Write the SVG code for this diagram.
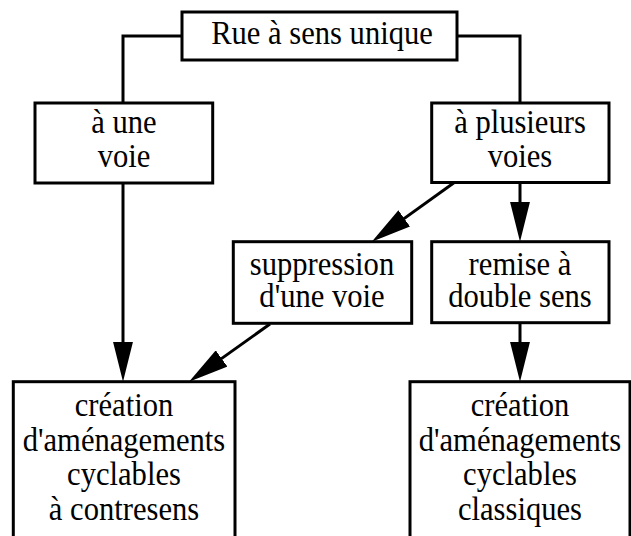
<svg xmlns="http://www.w3.org/2000/svg" width="631" height="536" viewBox="0 0 631 536">
<defs>
<style>
.box{fill:#fff;stroke:#000;stroke-width:3}
.ln{fill:none;stroke:#000;stroke-width:3}
text{font-family:"Liberation Serif","Times New Roman",serif;font-size:34px;fill:#000;text-anchor:middle}
</style>
<marker id="ah" viewBox="0 0 40 20" refX="20" refY="10" markerWidth="40" markerHeight="20" markerUnits="userSpaceOnUse" orient="auto">
<path d="M0,0 L40,10 L0,20 Z" fill="#000"/>
</marker>
</defs>
<rect width="631" height="536" fill="#fff"/>
<g id="connectors">
<polyline class="ln" points="182,36 123,36 123,103"/>
<polyline class="ln" points="457,36 520,36 520,103"/>
<line class="ln" x1="123" y1="183" x2="123" y2="361.7" marker-end="url(#ah)"/>
<line class="ln" x1="455" y1="182" x2="388" y2="230.1" marker-end="url(#ah)"/>
<line class="ln" x1="520" y1="183" x2="520" y2="221.7" marker-end="url(#ah)"/>
<line class="ln" x1="270" y1="324" x2="205.3" y2="370.1" marker-end="url(#ah)"/>
<line class="ln" x1="520" y1="323" x2="520" y2="361.7" marker-end="url(#ah)"/>
</g>
<g id="n-rue"><rect class="box" x="182" y="12" width="275" height="48"/><g transform="translate(322 0) scale(0.9 1) translate(-322 0)"><text x="322" y="44.5">Rue à sens unique</text></g></g>
<g id="n-une"><rect class="box" x="35" y="103" width="177.7" height="80"/><g transform="translate(124 0) scale(0.9 1) translate(-124 0)"><text x="124" y="133.5">à une</text><text x="124" y="167">voie</text></g></g>
<g id="n-plus"><rect class="box" x="431.7" y="103" width="177.3" height="79.5"/><g transform="translate(520 0) scale(0.9 1) translate(-520 0)"><text x="520" y="133.5">à plusieurs</text><text x="520" y="167">voies</text></g></g>
<g id="n-supp"><rect class="box" x="233.3" y="241.7" width="178.4" height="81.6"/><g transform="translate(322 0) scale(0.9 1) translate(-322 0)"><text x="322" y="275">suppression</text><text x="322" y="307.5">d'une voie</text></g></g>
<g id="n-remise"><rect class="box" x="431.7" y="241.7" width="177.3" height="81"/><g transform="translate(520 0) scale(0.9 1) translate(-520 0)"><text x="520" y="275">remise à</text><text x="520" y="307.5">double sens</text></g></g>
<g id="n-contre"><rect class="box" x="13.3" y="381.7" width="221.7" height="160"/><g transform="translate(124 0) scale(0.9 1) translate(-124 0)"><text x="124" y="416.5">création</text><text x="124" y="451.5">d'aménagements</text><text x="124" y="485.5">cyclables</text><text x="124" y="520">à contresens</text></g></g>
<g id="n-class"><rect class="box" x="410" y="381.7" width="220" height="160"/><g transform="translate(520 0) scale(0.9 1) translate(-520 0)"><text x="520" y="416.5">création</text><text x="520" y="451.5">d'aménagements</text><text x="520" y="485.5">cyclables</text><text x="520" y="520">classiques</text></g></g>
</svg>
